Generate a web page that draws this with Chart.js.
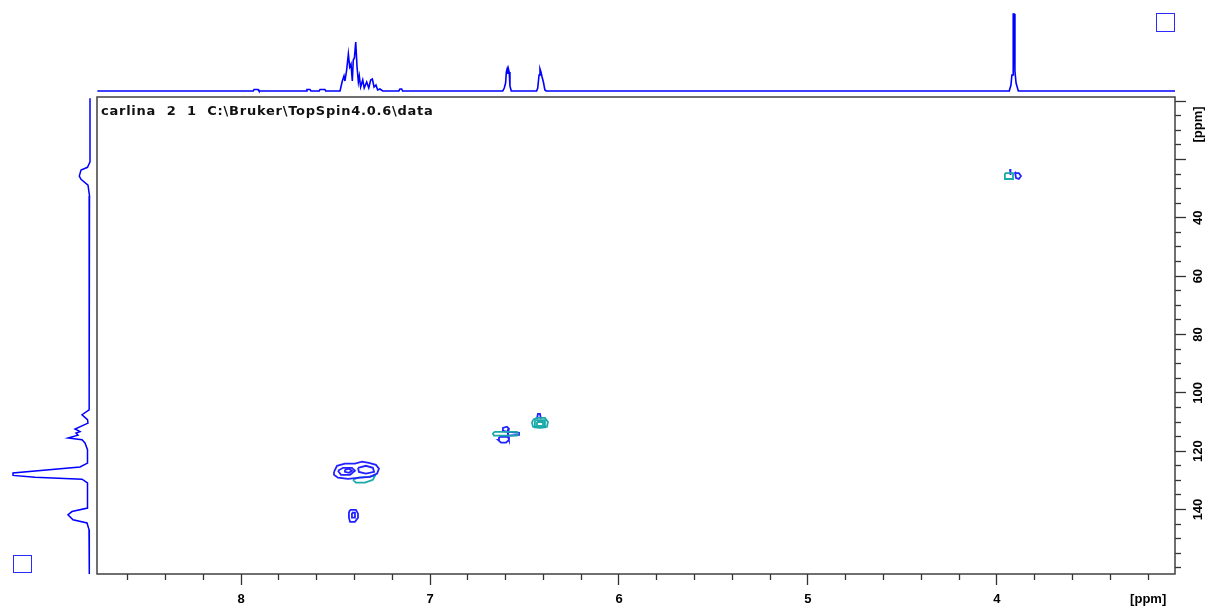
<!DOCTYPE html>
<html>
<head>
<meta charset="utf-8">
<script src="https://cdn.jsdelivr.net/npm/chart.js@4.4.0/dist/chart.umd.min.js"></script>
<style>
  html, body { margin: 0; padding: 0; background: #fff; }
  #wrap { position: relative; width: 1210px; height: 609px; overflow: hidden; }
  canvas { position: absolute; }
  #main { left: 0; top: 0; }
  #top { left: 0; top: 0; }
  #side { left: 0; top: 97px; }
  .sq { position: absolute; box-sizing: border-box; border: 1.5px solid #2b2bff; }
  #sqTop { left: 1156px; top: 13px; width: 19px; height: 19px; }
  #sqSide { left: 13px; top: 555px; width: 19px; height: 18px; }
  #label { position: absolute; left: 101px; top: 103px; line-height: 15px;
           font: bold 13px "DejaVu Sans"; letter-spacing: 0.75px; color: #111; white-space: pre; }
</style>
</head>
<body>
<div id="wrap">
  <canvas id="main" width="1210" height="609"></canvas>
  <canvas id="top" width="1210" height="95"></canvas>
  <canvas id="side" width="95" height="477"></canvas>
  <div class="sq" id="sqTop"></div>
  <div class="sq" id="sqSide"></div>
  <div id="label">carlina  2  1  C:\Bruker\TopSpin4.0.6\data</div>
</div>
<script>
// axis ticks (ppm)
var xTicks = [3.2, 3.4, 3.6, 3.8, 4, 4.2, 4.4, 4.6, 4.8, 5, 5.2, 5.4, 5.6, 5.8, 6, 6.2, 6.4, 6.6, 6.8, 7, 7.2, 7.4, 7.6, 7.8, 8, 8.2, 8.4, 8.6];
var xMajor = [4, 5, 6, 7, 8];
var xUnitAt = 3.2;
var yTicks = [0, 5, 10, 15, 20, 25, 30, 35, 40, 45, 50, 55, 60, 65, 70, 75, 80, 85, 90, 95, 100, 105, 110, 115, 120, 125, 130, 135, 140, 145, 150, 155, 160];
var yMajor = [0, 20, 40, 60, 80, 100, 120, 140];
var yLabeled = [40, 60, 80, 100, 120, 140];
var yUnitAt = 8;

// 1H projection (top): ppm / intensity
var topH = [8.76, 7.935, 7.931, 7.910, 7.905, 7.655, 7.651, 7.635, 7.630, 7.586, 7.582, 7.556, 7.552,
  7.476, 7.464, 7.455, 7.450, 7.441, 7.432, 7.425, 7.418, 7.411, 7.406, 7.400, 7.393, 7.386, 7.379,
  7.374, 7.367, 7.356, 7.348, 7.335, 7.324, 7.314, 7.305, 7.296, 7.286, 7.277, 7.265, 7.250,
  7.165, 7.159, 7.150, 7.145,
  6.615, 6.607, 6.600, 6.596, 6.592, 6.588, 6.585, 6.581, 6.577, 6.570,
  6.436, 6.430, 6.423, 6.418, 6.413, 6.407, 6.400, 6.392, 6.385,
  3.935, 3.926, 3.921, 3.915, 3.914, 3.908, 3.905, 3.899, 3.887, 3.058];
var topInt = [0, 0, 1.5, 1.5, 0, 0, 1.5, 1.5, 0, 0, 1.5, 1.5, 0,
  0, 10, 15, 10, 21, 37, 24, 27, 10, 31, 33, 49, 24, 9,
  15, 4, 11, 3, 9, 3, 11, 12, 4, 6, 1, 2, 0,
  0, 2, 2, 0,
  0, 3, 8, 19, 22, 17, 22, 19, 5, 0,
  0, 3, 16, 22, 19, 14, 9, 1, 0,
  0, 6, 16, 16, 77, 77, 20, 8, 0, 0];

// 13C projection (left): ppm / intensity
var sideC = [-1.0, 20.8, 22.7, 23.6, 25.7, 26.8, 28.8, 32.5, 102.4, 105.8, 107.5, 109.2, 110.4, 112.4,
  113.3, 113.8, 114.5, 115.5, 116.1, 117.2, 119.5, 124.1, 125.4, 127.5, 128.3, 128.9, 129.6, 130.9,
  139.5, 140.7, 141.8, 143.5, 144.6, 146.9, 162.1];
var sideInt = [0, 0, 2.5, 9, 10.7, 9, 2, 0.5, 0.7, 1, 8, 2.5, 2, 15,
  10, 14, 12, 22, 8, 5, 2.5, 2.5, 10, 77, 77, 55, 8, 2.5,
  2.5, 18, 22, 17, 3, 1, 0.7];

// contour outlines: 1H ppm / 13C ppm
var aroH = [7.508, 7.492, 7.450, 7.397, 7.360, 7.323, 7.286, 7.270, 7.280, 7.317, 7.370, 7.434, 7.487, 7.508, 7.508];
var aroC = [127.1, 125.0, 124.3, 124.3, 123.6, 124.0, 124.7, 126.0, 127.7, 128.8, 129.1, 129.5, 129.1, 128.1, 127.1];
var aroInAH = [7.487, 7.460, 7.413, 7.397, 7.423, 7.471, 7.487];
var aroInAC = [126.7, 125.7, 125.7, 126.7, 128.1, 128.1, 126.7];
var aroInBH = [7.381, 7.339, 7.302, 7.296, 7.339, 7.376, 7.381];
var aroInBC = [125.7, 125.0, 125.7, 127.1, 127.7, 127.1, 125.7];
var aroInCH = [7.450, 7.429, 7.413, 7.429, 7.450, 7.450];
var aroInCC = [126.4, 126.0, 126.7, 127.4, 127.1, 126.4];
var aroNegH = [7.407, 7.381, 7.328, 7.291, 7.302, 7.344, 7.392, 7.407];
var aroNegC = [129.8, 129.1, 128.8, 128.4, 129.8, 130.8, 130.8, 129.8];
var ipsoH = [7.423, 7.392, 7.381, 7.381, 7.397, 7.423, 7.429, 7.429, 7.423];
var ipsoC = [140.1, 140.1, 141.4, 142.8, 144.2, 144.2, 142.8, 141.1, 140.1];
var ipsoInH = [7.413, 7.397, 7.397, 7.413, 7.413];
var ipsoInC = [141.1, 141.1, 142.8, 142.8, 141.1];
var d661NegH = [6.661, 6.540, 6.534, 6.540, 6.661, 6.667, 6.661];
var d661NegC = [113.4, 113.4, 114.0, 114.7, 114.7, 114.0, 113.4];
var d661LoH = [6.635, 6.587, 6.582, 6.598, 6.624, 6.640, 6.635];
var d661LoC = [115.1, 115.1, 116.1, 117.1, 117.1, 116.1, 115.1];
var d661UpH = [6.619, 6.614, 6.593, 6.582, 6.587, 6.619];
var d661UpC = [113.0, 112.0, 111.6, 112.3, 113.4, 113.0];
var d661ArmH = [6.587, 6.529, 6.529, 6.587, 6.587];
var d661ArmC = [113.4, 113.7, 114.4, 114.7, 113.4];
var d642NegH = [6.455, 6.434, 6.392, 6.376, 6.381, 6.418, 6.455, 6.460, 6.455];
var d642NegC = [109.2, 108.6, 108.6, 110.0, 111.6, 112.0, 111.6, 110.3, 109.2];
var d642NegInH = [6.434, 6.402, 6.402, 6.434, 6.434];
var d642NegInC = [110.0, 110.0, 111.3, 111.3, 110.0];
var d642NegIn2H = [6.445, 6.392, 6.392, 6.445, 6.445];
var d642NegIn2C = [109.4, 109.4, 111.8, 111.8, 109.4];
var d642TipH = [6.434, 6.429, 6.418, 6.413];
var d642TipC = [108.9, 107.2, 107.2, 108.9];
var omeNegH = [3.958, 3.915, 3.915, 3.958, 3.958];
var omeNegC = [24.7, 24.7, 26.7, 26.7, 24.7];
var omeStemH = [3.931, 3.926, 3.926, 3.931, 3.931];
var omeStemC = [23.3, 23.3, 25.3, 25.3, 23.3];
var omeLoopH = [3.905, 3.899, 3.884, 3.873, 3.884, 3.899, 3.905];
var omeLoopC = [24.3, 26.4, 26.7, 25.7, 24.7, 24.7, 24.3];

var POS = '#2222ff', NEG = '#1aa8a8';
var contourList = [
  [aroH, aroC, POS], [aroInAH, aroInAC, POS], [aroInBH, aroInBC, POS], [aroInCH, aroInCC, POS], [aroNegH, aroNegC, NEG],
  [ipsoH, ipsoC, POS], [ipsoInH, ipsoInC, POS],
  [d661NegH, d661NegC, NEG], [d661LoH, d661LoC, POS], [d661UpH, d661UpC, POS], [d661ArmH, d661ArmC, POS],
  [d642NegH, d642NegC, NEG], [d642NegInH, d642NegInC, NEG], [d642NegIn2H, d642NegIn2C, NEG], [d642TipH, d642TipC, POS],
  [omeNegH, omeNegC, NEG], [omeStemH, omeStemC, POS], [omeLoopH, omeLoopC, POS]
];

function pts(xs, ys) { return xs.map(function(x, i) { return {x: x, y: ys[i]}; }); }
function isIn(arr, v) { return arr.some(function(a) { return Math.abs(a - v) < 1e-6; }); }

var X_MIN = 3.058, X_MAX = 8.762, Y_MIN = -1.4, Y_MAX = 162.1;
var tickFont = {family: 'Liberation Sans', weight: 'bold', size: 13};

var boxPlugin = {
  id: 'box',
  afterDraw: function(chart) {
    var a = chart.chartArea, c = chart.ctx;
    c.save();
    c.strokeStyle = '#404040';
    c.lineWidth = 1.5;
    c.strokeRect(a.left, a.top, a.right - a.left, a.bottom - a.top);
    c.restore();
  }
};

new Chart(document.getElementById('main'), {
  type: 'scatter',
  data: {
    datasets: contourList.map(function(c) {
      return {data: pts(c[0], c[1]), showLine: true, borderColor: c[2], borderWidth: 1.8, pointRadius: 0, tension: 0};
    })
  },
  options: {
    responsive: false, animation: false, events: [],
    layout: {padding: {left: 97, top: 97, right: 0, bottom: 0}},
    plugins: {legend: {display: false}, tooltip: {enabled: false}},
    scales: {
      x: {
        type: 'linear', position: 'bottom', reverse: true, min: X_MIN, max: X_MAX,
        afterBuildTicks: function(s) { s.ticks = xTicks.map(function(v) { return {value: v}; }); },
        afterFit: function(s) { s.height = 35; },
        border: {display: false},
        grid: {
          drawOnChartArea: false, tickLength: 11, tickColor: '#333', tickWidth: 1.3,
          tickBorderDash: function(ctx) { return isIn(xMajor, ctx.tick.value) ? [] : [6, 40]; }
        },
        ticks: {
          autoSkip: false, maxRotation: 0, padding: 7, color: '#000', font: tickFont,
          callback: function(v) {
            if (isIn(xMajor, v)) return String(v);
            if (Math.abs(v - xUnitAt) < 1e-6) return '[ppm]';
            return '';
          }
        }
      },
      y: {
        type: 'linear', position: 'right', reverse: true, min: Y_MIN, max: Y_MAX,
        afterBuildTicks: function(s) { s.ticks = yTicks.concat([yUnitAt]).map(function(v) { return {value: v}; }); },
        afterFit: function(s) { s.width = 35; },
        border: {display: false},
        grid: {
          drawOnChartArea: false, tickLength: 11, tickWidth: 1.3,
          tickColor: function(ctx) { return ctx.tick.value === yUnitAt ? 'rgba(0,0,0,0)' : '#333'; },
          tickBorderDash: function(ctx) { return isIn(yMajor, ctx.tick.value) ? [] : [6, 40]; }
        },
        ticks: {
          autoSkip: false, minRotation: 90, maxRotation: 90, crossAlign: 'center', padding: -6,
          color: '#000', font: tickFont,
          callback: function(v) {
            if (v === yUnitAt) return '[ppm]';
            return isIn(yLabeled, v) ? String(v) : '';
          }
        }
      }
    }
  },
  plugins: [boxPlugin]
});

new Chart(document.getElementById('top'), {
  type: 'scatter',
  data: {datasets: [{data: pts(topH, topInt), showLine: true, borderColor: '#0000ff', borderWidth: 1.6, pointRadius: 0, tension: 0}]},
  options: {
    responsive: false, animation: false, events: [],
    layout: {padding: {left: 97, right: 35, top: 0, bottom: 0}},
    plugins: {legend: {display: false}, tooltip: {enabled: false}},
    scales: {
      x: {type: 'linear', display: false, reverse: true, min: X_MIN, max: X_MAX},
      y: {type: 'linear', display: false, min: -4, max: 91}
    }
  }
});

new Chart(document.getElementById('side'), {
  type: 'scatter',
  data: {datasets: [{data: pts(sideInt, sideC), showLine: true, borderColor: '#0000ff', borderWidth: 1.5, pointRadius: 0, tension: 0}]},
  options: {
    responsive: false, animation: false, events: [],
    layout: {padding: 0},
    plugins: {legend: {display: false}, tooltip: {enabled: false}},
    scales: {
      x: {type: 'linear', display: false, reverse: true, min: -5, max: 90},
      y: {type: 'linear', display: false, reverse: true, min: Y_MIN, max: Y_MAX}
    }
  }
});
</script>
</body>
</html>
